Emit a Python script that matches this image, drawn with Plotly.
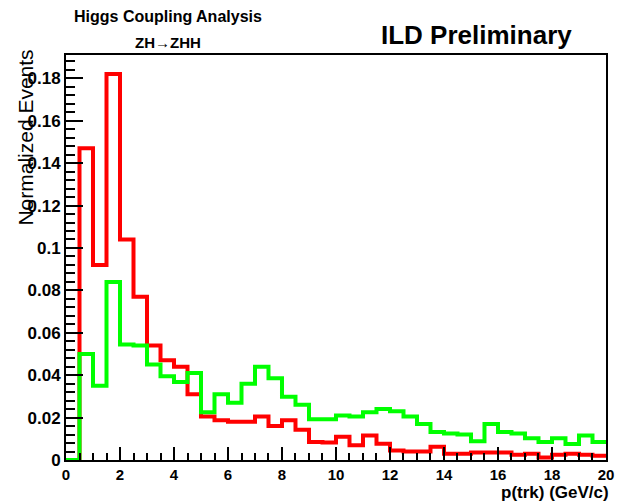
import plotly.graph_objects as go

# ---- data (bin edges in GeV/c, normalized contents per 0.5 GeV/c bin) ----
bin_edges = [0.0, 0.5, 1.0, 1.5, 2.0, 2.5, 3.0, 3.5, 4.0, 4.5, 5.0, 5.5, 6.0, 6.5,
             7.0, 7.5, 8.0, 8.5, 9.0, 9.5, 10.0, 10.5, 11.0, 11.5, 12.0, 12.5,
             13.0, 13.5, 14.0, 14.5, 15.0, 15.5, 16.0, 16.5, 17.0, 17.5, 18.0,
             18.5, 19.0, 19.5, 20.0]

red_values = [0.0, 0.147, 0.092, 0.182, 0.104, 0.077, 0.054, 0.047, 0.044, 0.031,
              0.0205, 0.0188, 0.018, 0.018, 0.0205, 0.016, 0.0188, 0.0143, 0.0085, 0.0082,
              0.011, 0.007, 0.0115, 0.0077, 0.0045, 0.004, 0.004, 0.0063, 0.003, 0.003,
              0.0035, 0.0035, 0.0035, 0.0025, 0.003, 0.0012, 0.0025, 0.003, 0.0025, 0.002]

green_values = [0.0, 0.050, 0.035, 0.084, 0.0545, 0.054, 0.045, 0.0395, 0.0368, 0.041,
                0.0225, 0.031, 0.027, 0.036, 0.044, 0.0385, 0.0298, 0.026, 0.0192, 0.0192,
                0.021, 0.0205, 0.0225, 0.024, 0.023, 0.0205, 0.017, 0.0132, 0.0125, 0.012,
                0.0088, 0.017, 0.0132, 0.0125, 0.0102, 0.0085, 0.0102, 0.0075, 0.0116, 0.0085]

x_ticks = [0, 2, 4, 6, 8, 10, 12, 14, 16, 18, 20]
x_tick_text = ["0", "2", "4", "6", "8", "10", "12", "14", "16", "18", "20"]
y_ticks = [0, 0.02, 0.04, 0.06, 0.08, 0.1, 0.12, 0.14, 0.16, 0.18]
y_tick_text = ["0", "0.02", "0.04", "0.06", "0.08", "0.1", "0.12", "0.14", "0.16", "0.18"]

W, H = 621, 501
ML, MR, MT, MB = 66, 7, 55, 41
PW, PH = W - ML - MR, H - MT - MB


def px_x(p):
    return (p - ML) / PW


def px_y(p):
    return (H - MB - p) / PH


fig = go.Figure()
fig.add_trace(go.Scatter(x=bin_edges, y=red_values + [red_values[-1]], mode="lines",
                         line=dict(color="#ff0000", width=4, shape="hv"),
                         showlegend=False, hoverinfo="skip"))
fig.add_trace(go.Scatter(x=bin_edges, y=green_values + [green_values[-1]], mode="lines",
                         line=dict(color="#00ff00", width=4, shape="hv"),
                         showlegend=False, hoverinfo="skip"))

tick_font = dict(family="Liberation Sans, Arial, sans-serif", size=17, color="black", weight="bold")

fig.update_layout(
    width=W, height=H,
    margin=dict(l=ML, r=MR, t=MT, b=MB, pad=0),
    paper_bgcolor="white", plot_bgcolor="white",
    showlegend=False,
    xaxis=dict(range=[0, 20.0005], tickvals=x_ticks, ticktext=x_tick_text, ticks="inside",
               ticklen=13, tickwidth=1.5, ticklabeloverflow="allow", ticklabelstandoff=0,
               tickcolor="black", showline=True, linecolor="black", linewidth=2, mirror=True,
               showgrid=False, zeroline=False, tickfont=dict(tick_font, size=15),
               minor=dict(ticks="inside", dtick=0.5, ticklen=7, tickwidth=1.5, tickcolor="black",
                          showgrid=False)),
    yaxis=dict(range=[0, 0.191], tickvals=y_ticks, ticktext=y_tick_text, ticks="inside",
               ticklen=17, tickwidth=1.5, tickcolor="black", showline=True, linecolor="black",
               linewidth=2, mirror=True, showgrid=False, zeroline=False, tickfont=tick_font,
               minor=dict(ticks="inside", dtick=0.004, ticklen=9, tickwidth=1.5,
                          tickcolor="black", showgrid=False)),
)

annos = [
    dict(text="Higgs Coupling Analysis", x=px_x(170), y=px_y(17), xanchor="center", yanchor="middle",
         font=dict(family="Liberation Sans, Arial", size=16, color="black", weight="bold")),
    dict(text="ZH\u2192ZHH", x=px_x(170), y=px_y(43), xanchor="center", yanchor="middle",
         font=dict(family="Liberation Sans, Arial", size=15, color="black", weight="bold")),
    dict(text="ILD Preliminary", x=px_x(483), y=px_y(35), xanchor="center", yanchor="middle",
         font=dict(family="Liberation Sans, Arial", size=26, color="black", weight="bold")),
    dict(text="p(trk) (GeV/c)", x=px_x(619), y=px_y(492), xanchor="right", yanchor="middle",
         font=dict(family="Liberation Sans, Arial", size=17, color="black", weight="bold")),
    dict(text="Normalized Events", x=px_x(24), y=px_y(138), xanchor="center", yanchor="middle",
         textangle=-90,
         font=dict(family="Liberation Sans, Arial", size=21, color="black")),
]
for a in annos:
    fig.add_annotation(xref="paper", yref="paper", showarrow=False, **a)

fig.write_html("out.html")
